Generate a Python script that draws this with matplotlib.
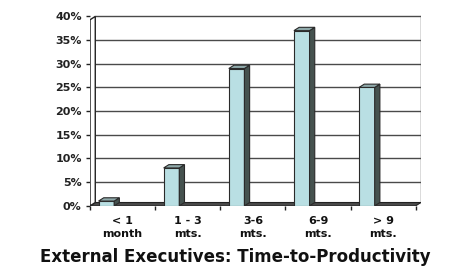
import numpy as np
import matplotlib.pyplot as plt
from matplotlib.patches import Polygon

# Data
categories = ["< 1\nmonth", "1 - 3\nmts.", "3-6\nmts.", "6-9\nmts.", "> 9\nmts."]
values = [1, 8, 29, 37, 25]
y_ticks = [0, 5, 10, 15, 20, 25, 30, 35, 40]

BAR_FACE = "#b9dfe3"
BAR_SIDE = "#45524f"
BAR_TOP = "#8fa9aa"
EDGE = "#2a2a2a"

fig = plt.figure(figsize=(4.74, 2.68), dpi=100)
ax = fig.add_axes([0.19, 0.232, 0.698, 0.712])

x = np.arange(len(categories))
bar_w = 0.24
offset = -0.25
dx, dy = 0.08, 0.7

# back wall gridlines (shifted by depth)
for t in y_ticks[1:]:
    ax.plot([-0.5 + dx, 4.5 + dx], [t, t], color="#4a4a4a", lw=1.0, zorder=1)
ax.plot([4.5 + dx, 4.5 + dx], [dy, 40], color="#4a4a4a", lw=1.0, zorder=1)

# floor
floor = Polygon([(-0.5, 0), (4.5, 0), (4.5 + dx, dy), (-0.5 + dx, dy)],
                closed=True, facecolor="#4a4a4a", edgecolor="#222222", lw=0.8, zorder=2)
ax.add_patch(floor)
# left wall
wall = Polygon([(-0.5, 0), (-0.5 + dx, dy), (-0.5 + dx, 40), (-0.5, 40 - dy)],
               closed=True, facecolor="white", edgecolor="#222222", lw=1.0, zorder=2)
ax.add_patch(wall)

# bars with a simple 3-D look
for xi, v in zip(x, values):
    left = xi + offset - bar_w / 2
    right = left + bar_w
    ax.bar(xi + offset, v, width=bar_w, color=BAR_FACE, edgecolor=EDGE, lw=0.8, zorder=4)
    side = Polygon([(right, 0), (right + dx, dy), (right + dx, v + dy), (right, v)],
                   closed=True, facecolor=BAR_SIDE, edgecolor=EDGE, lw=0.8, zorder=4)
    top = Polygon([(left, v), (left + dx, v + dy), (right + dx, v + dy), (right, v)],
                  closed=True, facecolor=BAR_TOP, edgecolor=EDGE, lw=0.8, zorder=4)
    ax.add_patch(side)
    ax.add_patch(top)

ax.set_xlim(-0.5, 4.5 + dx)
ax.set_ylim(0, 40.3)
for s in ax.spines.values():
    s.set_visible(False)

ax.set_yticks(y_ticks)
ax.set_yticklabels([f"{t}%" for t in y_ticks], fontsize=8, fontweight="bold")
ax.tick_params(axis="y", length=3, width=1, pad=3, colors="#222222")
ax.set_xticks(np.arange(-0.5, 5, 1.0))
ax.set_xticklabels([])
ax.tick_params(axis="x", length=3, width=1, colors="#222222")

for xi, lab in zip(x, categories):
    ax.text(xi, -2.2, lab, ha="center", va="top", fontsize=8, fontweight="bold",
            linespacing=1.3, color="#111111")

fig.text(0.497, 0.04, "External Executives: Time-to-Productivity", ha="center",
         va="center", fontsize=12, fontweight="bold", color="#111111")

fig.savefig("out.png", dpi=100)
